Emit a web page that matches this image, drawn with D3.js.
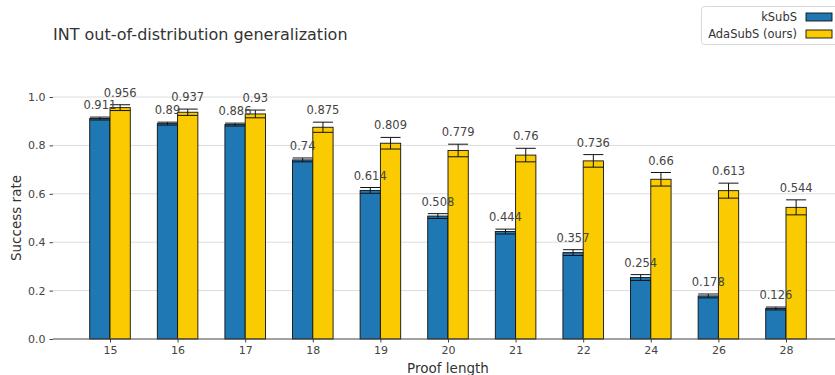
<!DOCTYPE html>
<html>
<head>
<meta charset="utf-8">
<script src="https://cdn.jsdelivr.net/npm/d3@7"></script>
<style>
  html, body { margin: 0; padding: 0; background: #ffffff; }
  svg { display: block; font-family: "DejaVu Sans", sans-serif; }
</style>
</head>
<body>
<svg id="chart" width="835" height="375"></svg>
<script>
// Proof lengths (x categories)
const proofLengths = ["15", "16", "17", "18", "19", "20", "21", "22", "24", "26", "28"];
// Success rates per method
const ksubsRates   = [0.911, 0.89, 0.886, 0.74, 0.614, 0.508, 0.444, 0.357, 0.254, 0.178, 0.126];
const adasubsRates = [0.956, 0.937, 0.93, 0.875, 0.809, 0.779, 0.76, 0.736, 0.66, 0.613, 0.544];
// Error bar half-widths
const ksubsErr   = [0.006, 0.006, 0.006, 0.008, 0.012, 0.010, 0.010, 0.012, 0.012, 0.008, 0.006];
const adasubsErr = [0.012, 0.013, 0.016, 0.021, 0.024, 0.026, 0.028, 0.026, 0.028, 0.031, 0.031];
// Y tick values
const yTicks = [0.0, 0.2, 0.4, 0.6, 0.8, 1.0];
const seriesNames = ["kSubS", "AdaSubS (ours)"];
const seriesColors = ["#1f77b4", "#f9cb00"];

const svg = d3.select("#chart");
const plotLeft = 53, plotRight = 835, plotTop = 97, plotBottom = 339;

const x = d3.scalePoint().domain(proofLengths).range([110, 786]);
const step = x.step();
const barW = step * 0.3;
const y = d3.scaleLinear().domain([0, 1]).range([plotBottom, plotTop]);

// grid lines
svg.append("g").selectAll("line").data(yTicks.filter(d => d > 0)).join("line")
  .attr("x1", plotLeft).attr("x2", plotRight)
  .attr("y1", d => y(d)).attr("y2", d => y(d))
  .attr("stroke", "#dcdcdc").attr("stroke-width", 1);

// y axis (no spine)
const yAxis = svg.append("g").attr("transform", `translate(${plotLeft},0)`)
  .call(d3.axisLeft(y).tickValues(yTicks).tickFormat(d3.format(".1f")).tickSize(3.5).tickPadding(4));
yAxis.select(".domain").remove();
yAxis.selectAll(".tick line").attr("stroke", "#444");
yAxis.selectAll("text").attr("fill", "#444").attr("font-size", 11).attr("font-family", "DejaVu Sans");

// bars and error bars for both methods
const series = [
  { name: seriesNames[0], vals: ksubsRates, errs: ksubsErr, color: seriesColors[0], off: -barW / 2 },
  { name: seriesNames[1], vals: adasubsRates, errs: adasubsErr, color: seriesColors[1], off: barW / 2 }
];
const rowsOf = s => proofLengths.map((c, i) => ({ c, v: s.vals[i], e: s.errs[i] }));

series.forEach(s => {
  const rows = rowsOf(s);
  const g = svg.append("g");
  g.selectAll("rect").data(rows).join("rect")
    .attr("x", d => x(d.c) + s.off - barW / 2)
    .attr("y", d => y(d.v))
    .attr("width", barW)
    .attr("height", d => y(0) - y(d.v))
    .attr("fill", s.color)
    .attr("stroke", "#111").attr("stroke-width", 0.9);
  const eb = g.selectAll("g.err").data(rows).join("g").attr("class", "err");
  eb.append("line")
    .attr("x1", d => x(d.c) + s.off).attr("x2", d => x(d.c) + s.off)
    .attr("y1", d => y(d.v - d.e)).attr("y2", d => y(d.v + d.e))
    .attr("stroke", "#111").attr("stroke-width", 1);
  [-1, 1].forEach(sign => {
    eb.append("line")
      .attr("x1", d => x(d.c) + s.off - 10).attr("x2", d => x(d.c) + s.off + 10)
      .attr("y1", d => y(d.v + sign * d.e)).attr("y2", d => y(d.v + sign * d.e))
      .attr("stroke", "#111").attr("stroke-width", 1);
  });
});

// value labels on top of everything
series.forEach(s => {
  svg.append("g").selectAll("text").data(rowsOf(s)).join("text")
    .attr("x", d => x(d.c) + s.off)
    .attr("y", d => y(d.v + d.e) - 8)
    .attr("text-anchor", "middle")
    .attr("font-size", 11.5)
    .attr("fill", "#444")
    .text(d => d3.format("")(d.v));
});

// x axis
const xAxis = svg.append("g").attr("transform", `translate(0,${plotBottom})`)
  .call(d3.axisBottom(x).tickSize(3.5).tickPadding(4));
xAxis.select(".domain").remove();
xAxis.selectAll(".tick line").attr("stroke", "#444");
xAxis.selectAll("text").attr("fill", "#444").attr("font-size", 11).attr("font-family", "DejaVu Sans");
svg.append("line").attr("x1", plotLeft).attr("x2", plotRight)
  .attr("y1", plotBottom).attr("y2", plotBottom)
  .attr("stroke", "#444").attr("stroke-width", 1);

// axis labels
svg.append("text").attr("x", (plotLeft + 835) / 2 + 4).attr("y", 373)
  .attr("text-anchor", "middle").attr("font-size", 13.5).attr("fill", "#333").text("Proof length");
svg.append("text").attr("transform", `translate(21,${(plotTop + plotBottom) / 2}) rotate(-90)`)
  .attr("text-anchor", "middle").attr("font-size", 13.5).attr("fill", "#333").text("Success rate");

// title
svg.append("text").attr("x", 53).attr("y", 40).attr("font-size", 16).attr("fill", "#333")
  .text("INT out-of-distribution generalization");

// legend
const lg = svg.append("g");
lg.append("rect").attr("x", 701.5).attr("y", 6.5).attr("width", 140).attr("height", 38)
  .attr("rx", 3).attr("fill", "#fff").attr("stroke", "#d8d8d8");
seriesNames.forEach((n, i) => {
  const yy = 17 + i * 17;
  lg.append("text").attr("x", 797).attr("y", yy + 4).attr("text-anchor", "end")
    .attr("font-size", 11.5).attr("fill", "#333").text(n);
  lg.append("rect").attr("x", 806).attr("y", yy - 4).attr("width", 26).attr("height", 8)
    .attr("fill", seriesColors[i]).attr("stroke", "#111").attr("stroke-width", 0.9);
});
</script>
</body>
</html>
